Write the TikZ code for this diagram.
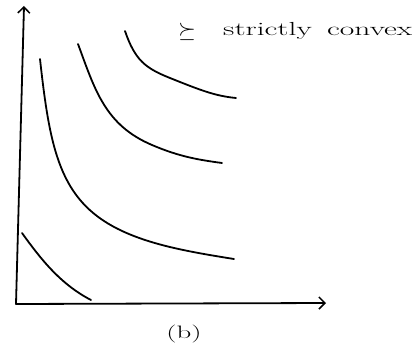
\documentclass[tikz,border=0pt]{standalone}
\usepackage{fontspec}
\usetikzlibrary{arrows.meta}
\begin{document}
\begin{tikzpicture}[x=1pt,y=-1pt,
  stroke/.style={line width=1.8pt,line cap=round,line join=round},
  axis/.style={stroke,-{Straight Barb[length=6pt,width=12pt,line width=1.5pt]}},
  lbl/.style={inner sep=0pt,font=\fontsize{18}{20}\selectfont}]
\useasboundingbox (0,0) rectangle (417,345);
\coordinate (O) at (16,304);
\coordinate (Y) at (24,6);
\coordinate (X) at (326,303);
\draw[axis] (O) -- (Y);
\draw[axis] (O) -- (X);
% indifference curves
\coordinate (a1) at (22,233);
\coordinate (a2) at (91,300);
\draw[stroke] (a1) .. controls (40,258) and (60,284) .. (a2);
\coordinate (b1) at (40,59);
\coordinate (b2) at (234,259);
\draw[stroke] (b1) .. controls (50,150) and (60,200) .. (118,229)
  .. controls (150,245) and (190,252) .. (b2);
\coordinate (c1) at (78,44);
\coordinate (c2) at (222,163);
\draw[stroke] (c1) .. controls (95,90) and (105,125) .. (152,145)
  .. controls (180,157) and (200,160) .. (c2);
\coordinate (d1) at (125,31);
\coordinate (d2) at (236,98);
\draw[stroke] (d1) .. controls (135,60) and (145,68) .. (170,78)
  .. controls (200,90) and (215,96) .. (d2);
\node[lbl,anchor=center] (s) at (187,32) {\scalebox{1.3}[1.3]{$\succeq$}};
\node[lbl,anchor=west] (t) at (223,31) {\scalebox{1.75}[1.05]{strictly}};
\node[lbl,anchor=west] (u) at (327,31) {\scalebox{1.75}[1.05]{convex}};
\node[lbl] (cap) at (184,334) {\scalebox{1.6}[1.0]{(b)}};
\end{tikzpicture}
\end{document}
